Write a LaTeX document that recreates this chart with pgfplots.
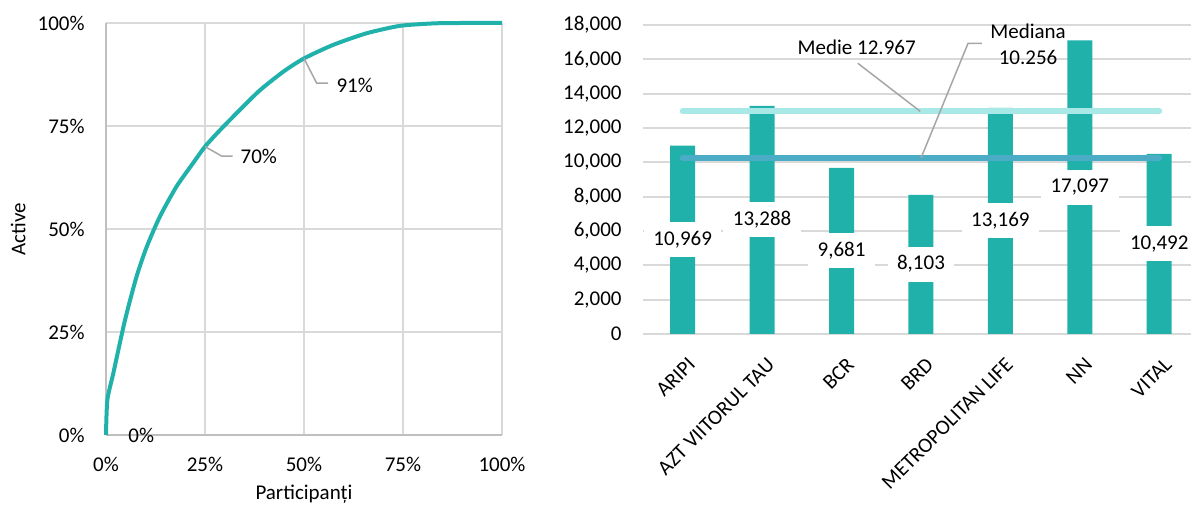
\documentclass[border=0pt]{standalone}
\usepackage{fontspec}
\setmainfont{Carlito}
\usepackage{pgfplots}
\pgfplotsset{compat=1.18}

\definecolor{teal1}{HTML}{20B2AA}
\definecolor{gridc}{HTML}{D9D9D9}
\definecolor{axisc}{HTML}{BFBFBF}
\definecolor{leader}{HTML}{A6A6A6}
\definecolor{medie}{HTML}{A8E8E6}
\definecolor{mediana}{HTML}{4BACC6}

\pgfplotsset{every axis/.append style={font=\fontsize{10.5}{12.6}\selectfont}}

\begin{document}
\begin{tikzpicture}
\useasboundingbox (0,0) rectangle (595.5pt,253pt);

% Lorenz curve
\begin{axis}[
  at={(53pt,35.5pt)}, anchor=south west,
  scale only axis, width=198pt, height=206pt,
  xmin=0, xmax=1, ymin=0, ymax=1,
  clip=false,
  xtick={0,0.25,0.5,0.75,1},
  xticklabels={0\%,25\%,50\%,75\%,100\%},
  ytick={0,0.25,0.5,0.75,1},
  yticklabels={0\%,25\%,50\%,75\%,100\%},
  major tick length=0pt,
  grid=major,
  grid style={draw=gridc, line width=1pt},
  axis lines*=left,
  axis line style={draw=axisc, line width=1pt},
  xticklabel style={anchor=north, inner sep=0pt, yshift=-10.8pt},
  yticklabel style={anchor=east, inner sep=0pt, xshift=-10.5pt},
  xlabel={Participanți},
  ylabel={Active},
  every axis x label/.style={at={(axis description cs:0.5,-0.143)}, anchor=center},
  every axis y label/.style={at={(axis description cs:-0.222,0.5)}, anchor=center, rotate=90},
]
\addplot[teal1, line width=2pt, smooth, tension=0.4] coordinates {
  (0,0) (0.0034,0.085) (0.0185,0.15) (0.048,0.279) (0.077,0.384)
  (0.103,0.457) (0.136,0.53) (0.178,0.603) (0.22,0.66) (0.25,0.70)
  (0.288,0.74) (0.338,0.789) (0.389,0.837) (0.448,0.882) (0.50,0.914)
  (0.574,0.947) (0.658,0.975) (0.742,0.993) (0.827,0.999) (0.9,1) (1,1)
};
\draw[leader, line width=0.75pt] (axis cs:0.25,0.70) -- (axis cs:0.292,0.677) -- (axis cs:0.320,0.677);
\draw[leader, line width=0.75pt] (axis cs:0.5,0.914) -- (axis cs:0.532,0.854) -- (axis cs:0.561,0.854);
\node at (axis cs:0.089,0) {0\%};
\node at (axis cs:0.386,0.675) {70\%};
\node at (axis cs:0.628,0.848) {91\%};
\end{axis}

% Bars
\begin{axis}[
  at={(321.5pt,86pt)}, anchor=south west,
  scale only axis, width=274pt, height=154.5pt,
  xmin=-0.5, xmax=6.4, ymin=0, ymax=18000,
  clip=false,
  scaled y ticks=false,
  xtick={0,...,6},
  xticklabels={ARIPI,AZT VIITORUL TAU,BCR,BRD,METROPOLITAN LIFE,NN,VITAL},
  ytick={0,2000,...,18000},
  yticklabels={0,{2,000},{4,000},{6,000},{8,000},{10,000},{12,000},{14,000},{16,000},{18,000}},
  major tick length=0pt,
  ymajorgrids,
  grid style={draw=gridc, line width=1pt},
  axis line style={draw=none},
  xticklabel style={xshift=2pt, yshift=-11pt, rotate=45, anchor=north east, inner sep=0pt},
  yticklabel style={anchor=east, inner sep=0pt, xshift=-10.5pt},
]
\addplot[ybar, bar width=12.5pt, fill=teal1, draw=none] coordinates {
  (0,10969) (1,13288) (2,9681) (3,8103) (4,13169) (5,17097) (6,10492)
};
\addplot[medie, line width=3pt, line cap=round] coordinates {(0,12967) (6,12967)};
\addplot[mediana, line width=3pt, line cap=round] coordinates {(0,10256) (6,10256)};
\draw[leader, line width=0.75pt] (axis cs:2.205,15769) -- (axis cs:2.991,12967);
\draw[leader, line width=0.75pt] (axis cs:3.766,16933) -- (axis cs:3.593,16933) -- (axis cs:3.001,10256);
\node at (axis cs:2.191,16689) {Medie 12.967};
\node at (axis cs:4.349,17621) {Mediana};
\node at (axis cs:4.349,16106) {10.256};
\tikzset{lbl/.style={fill=white, inner xsep=4.75pt, inner ysep=4.5pt, text height=7pt, text depth=1.5pt}}
\node[lbl] at (axis cs:0,5484) {10,969};
\node[lbl] at (axis cs:1,6644) {13,288};
\node[lbl] at (axis cs:2,4840) {9,681};
\node[lbl] at (axis cs:3,4051) {8,103};
\node[lbl] at (axis cs:4,6584) {13,169};
\node[lbl] at (axis cs:5,8548) {17,097};
\node[lbl] at (axis cs:6,5246) {10,492};
\end{axis}
\end{tikzpicture}
\end{document}
